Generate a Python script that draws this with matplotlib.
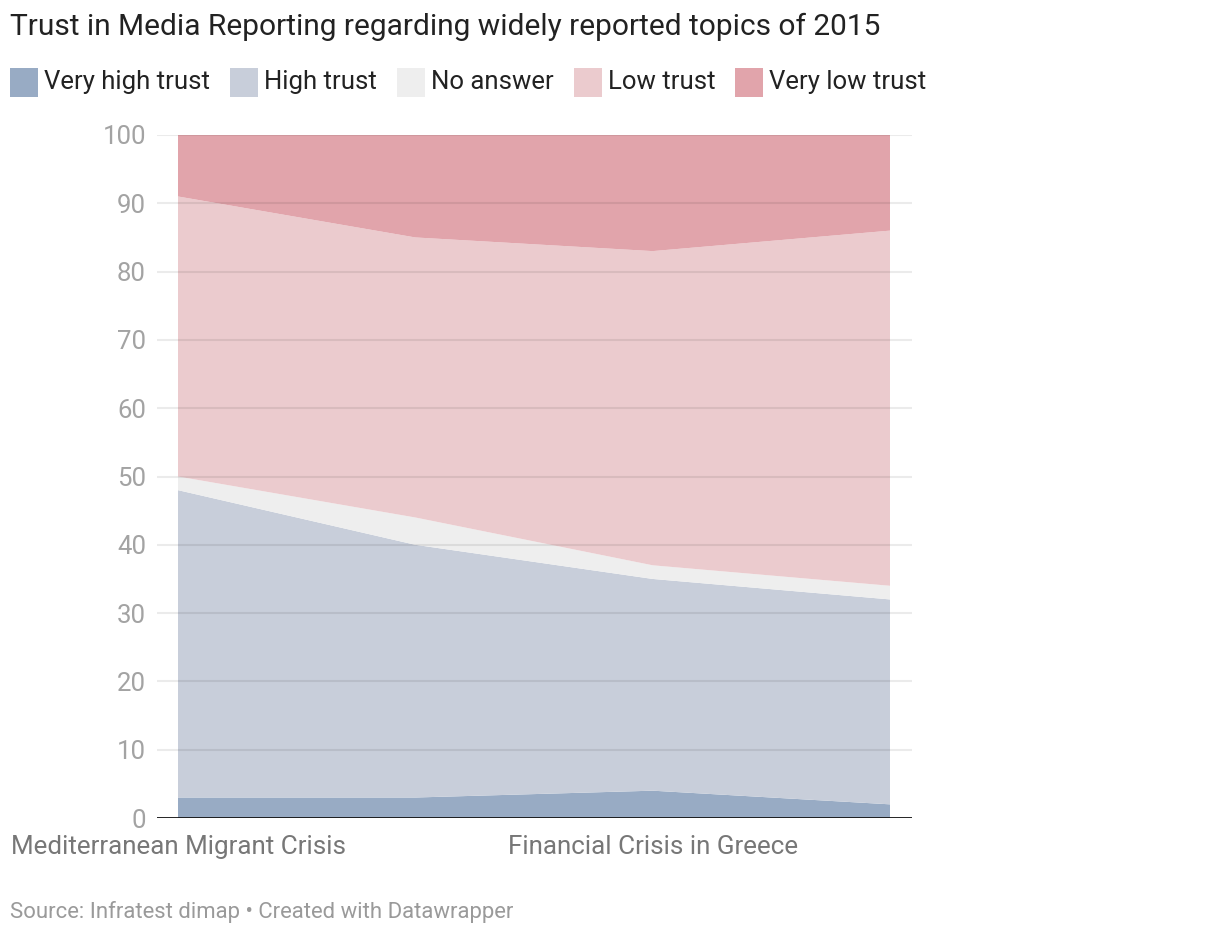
import matplotlib
matplotlib.use("Agg")
import matplotlib.pyplot as plt
from matplotlib.patches import Rectangle
import numpy as np

plt.rcParams['font.family'] = ['Roboto', 'DejaVu Sans']

# data (percent)
x_labels = ["Mediterranean Migrant Crisis", "", "Financial Crisis in Greece", ""]
very_high = [3, 3, 4, 2]
high = [45, 37, 31, 30]
no_answer = [2, 4, 2, 2]
low = [41, 41, 46, 52]
very_low = [9, 15, 17, 14]

series_names = ["Very high trust", "High trust", "No answer", "Low trust", "Very low trust"]
colors = ["#98abc4", "#c8ceda", "#eeeeee", "#ebcbce", "#e1a4ab"]

fig = plt.figure(figsize=(12.2, 9.36), dpi=100)
ax = fig.add_axes([157 / 1220, 1 - 818 / 936, (912 - 157) / 1220, (818 - 135) / 936])

x = np.arange(len(x_labels))
ax.stackplot(x, very_high, high, no_answer, low, very_low, colors=colors, linewidth=0)

ax.set_xlim(-0.0885, 3.0927)
ax.set_ylim(0, 100)

# grid lines on top of the areas, faint
for y in range(10, 101, 10):
    ax.axhline(y, color="black", alpha=0.08, lw=1.5, zorder=3)
ax.axhline(0, color="#111111", lw=2, zorder=4)

for s in ax.spines.values():
    s.set_visible(False)

ax.set_yticks(range(0, 101, 10))
ax.tick_params(axis="y", length=0, pad=8, labelsize=18.5, labelcolor="#a3a3a3")
ax.set_xticks([i for i, l in enumerate(x_labels) if l])
ax.set_xticklabels([l for l in x_labels if l])
ax.tick_params(axis="x", length=0, pad=12, labelsize=18.7, labelcolor="#777777")

fig.text(10 / 1220, 1 - 27 / 936, "Trust in Media Reporting regarding widely reported topics of 2015",
         fontsize=21.5, color="#222222", va="center", ha="left")

# legend row
lx = 10
for name, c in zip(series_names, colors):
    fig.patches.append(Rectangle((lx / 1220, 1 - 97 / 936), 28 / 1220, 29 / 936,
                                 transform=fig.transFigure, facecolor=c, edgecolor="none"))
    t = fig.text((lx + 34) / 1220, 1 - 82 / 936, name, fontsize=18.5, color="#222222",
                 va="center", ha="left")
    fig.canvas.draw()
    bb = t.get_window_extent()
    lx = bb.x1 + 20

fig.text(10 / 1220, 1 - 912 / 936, "Source: Infratest dimap \u2022 Created with Datawrapper",
         fontsize=15.9, color="#9a9a9a", va="center", ha="left")

fig.savefig("out.png", dpi=100, facecolor="white")
